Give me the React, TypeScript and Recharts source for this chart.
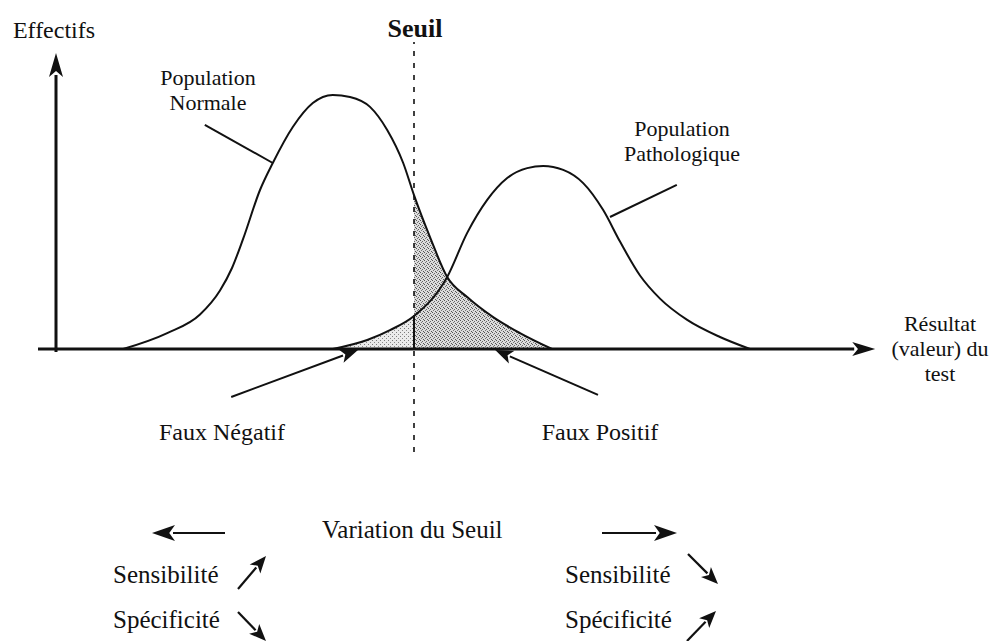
import React from 'react';
import { ComposedChart, Line, Area, XAxis, YAxis, ReferenceLine } from 'recharts';

// courbes (x = résultat du test, y = effectifs)
const normalX = [8.4, 13.9, 18, 20.5, 22, 23.4, 25.5, 27.1, 29.6, 32.1, 34.6, 36.75, 39.25, 41.4, 43.4, 44.75, 46.75, 48.9, 51.4, 54.6, 58, 62];
const normalY = [0, 5.3, 11.5, 19.5, 27, 36.8, 53, 62, 74, 82, 84.7, 84, 80.7, 73, 62, 51.3, 37.3, 24, 17.3, 10.7, 5.3, 0];

const pathoX = [34.6, 38.9, 41.75, 44.75, 48.9, 51.4, 53.9, 56.4, 58.9, 60.9, 63.4, 65.9, 68.4, 70.5, 73, 75.5, 78.9, 83, 86.75];
const pathoY = [0, 3, 6.3, 11, 24, 38.7, 49.7, 57, 60.3, 61, 59.7, 55.3, 46.3, 35.8, 24.5, 16.8, 9.7, 4, 0];

const threshold = 44.75;

// traits d'annotation (en unités du graphique)
const pointers = [
  { from: { x: 18.6, y: 74.7 }, to: { x: 27.1, y: 62 }, arrow: false },
  { from: { x: 77.6, y: 54.7 }, to: { x: 69.25, y: 44 }, arrow: false },
  { from: { x: 21.9, y: -16 }, to: { x: 37.75, y: -0.3 }, arrow: true },
  { from: { x: 67.75, y: -15.3 }, to: { x: 54.9, y: -0.3 }, arrow: true },
];

const xs = Array.from(new Set([...normalX, ...pathoX])).sort((a, b) => a - b);
const data = xs.map((x) => {
  const ni = normalX.indexOf(x);
  const pi = pathoX.indexOf(x);
  return {
    x,
    normal: ni >= 0 ? normalY[ni] : null,
    patho: pi >= 0 ? pathoY[pi] : null,
    fp: ni >= 0 && x >= threshold ? normalY[ni] : null,
    fn: pi >= 0 && x <= threshold ? pathoY[pi] : null,
  };
});

const INK = '#111';
const FONT = '"Liberation Serif", "Times New Roman", serif';

const arrowShape = (head: number, half: number, width: number) => (p: any) => {
  const { x1, y1, x2, y2 } = p;
  const dx = x2 - x1;
  const dy = y2 - y1;
  const len = Math.hypot(dx, dy) || 1;
  const ux = dx / len;
  const uy = dy / len;
  const bx = x2 - ux * head;
  const by = y2 - uy * head;
  const nx = -uy * half;
  const ny = ux * half;
  return (
    <g>
      <line x1={x1} y1={y1} x2={bx + ux * 2} y2={by + uy * 2} stroke={INK} strokeWidth={width} />
      <polygon points={`${x2},${y2} ${bx + nx},${by + ny} ${bx + ux * head * 0.25},${by + uy * head * 0.25} ${bx - nx},${by - ny}`} fill={INK} />
    </g>
  );
};

const Arrow = ({ x1, y1, x2, y2, head, half, width }: any) => arrowShape(head, half, width)({ x1, y1, x2, y2 });

// étiquettes : plusieurs lignes dans un même <text>
const labels = [
  { lines: ['Effectifs'], x: 54, y: 38, a: 'middle', s: 24, lh: 0, w: 400 },
  { lines: ['Seuil'], x: 415, y: 37, a: 'middle', s: 26, lh: 0, w: 700 },
  { lines: ['Population', 'Normale'], x: 208, y: 85, a: 'middle', s: 22, lh: 25, w: 400 },
  { lines: ['Population', 'Pathologique'], x: 682, y: 136, a: 'middle', s: 22, lh: 25, w: 400 },
  { lines: ['Résultat', '(valeur) du', 'test'], x: 940, y: 331, a: 'middle', s: 22, lh: 25, w: 400 },
  { lines: ['Faux Négatif'], x: 222, y: 440, a: 'middle', s: 24, lh: 0, w: 400 },
  { lines: ['Faux Positif'], x: 600, y: 440, a: 'middle', s: 24, lh: 0, w: 400 },
  { lines: ['Variation du Seuil'], x: 322, y: 538, a: 'start', s: 25, lh: 0, w: 400 },
  { lines: ['Sensibilité'], x: 113, y: 583, a: 'start', s: 25, lh: 0, w: 400 },
  { lines: ['Spécificité'], x: 113, y: 628, a: 'start', s: 25, lh: 0, w: 400 },
  { lines: ['Sensibilité'], x: 565, y: 583, a: 'start', s: 25, lh: 0, w: 400 },
  { lines: ['Spécificité'], x: 565, y: 628, a: 'start', s: 25, lh: 0, w: 400 },
];

export default function App() {
  return (
    <div style={{ position: 'absolute', left: 0, top: 0, width: 999, height: 641, background: '#fff' }}>
      <svg width={0} height={0} style={{ position: 'absolute' }}>
        <defs>
          <pattern id="dotsFP" width={4} height={4} patternUnits="userSpaceOnUse">
            <rect width={4} height={4} fill="#dcdcdc" />
            <rect x={0} y={0} width={1} height={1} fill="#555" />
            <rect x={2} y={1} width={1} height={1} fill="#666" />
            <rect x={1} y={2} width={1} height={1} fill="#777" />
            <rect x={3} y={3} width={1} height={1} fill="#555" />
          </pattern>
          <pattern id="dotsFN" width={4} height={4} patternUnits="userSpaceOnUse">
            <rect width={4} height={4} fill="#ebebeb" />
            <rect x={0} y={0} width={1} height={1} fill="#7a7a7a" />
            <rect x={2} y={2} width={1} height={1} fill="#8a8a8a" />
          </pattern>
        </defs>
      </svg>
      <ComposedChart width={999} height={641} data={data} margin={{ top: 40, right: 119, bottom: 181, left: 32 }}>
        <XAxis type="number" dataKey="x" domain={[-3, 103]} allowDataOverflow hide />
        <YAxis type="number" domain={[-37, 103]} allowDataOverflow hide />
        <Area type="monotone" dataKey="fn" stroke="none" fill="url(#dotsFN)" fillOpacity={1} connectNulls isAnimationActive={false} />
        <Area type="monotone" dataKey="fp" stroke="none" fill="url(#dotsFP)" fillOpacity={1} connectNulls isAnimationActive={false} />
        <ReferenceLine
          segment={[{ x: threshold, y: -34.3 }, { x: threshold, y: 102.3 }]}
          stroke={INK}
          strokeWidth={1.6}
          strokeDasharray="5 7"
        />
        <ReferenceLine
          segment={[{ x: threshold, y: 0 }, { x: threshold, y: pathoY[pathoX.indexOf(threshold)] }]}
          stroke={INK}
          strokeWidth={2}
        />
        <Line type="monotone" dataKey="normal" stroke={INK} strokeWidth={2} dot={false} connectNulls isAnimationActive={false} />
        <Line type="monotone" dataKey="patho" stroke={INK} strokeWidth={2} dot={false} connectNulls isAnimationActive={false} />
        {pointers.map((p, i) => (
          <ReferenceLine
            key={i}
            segment={[p.from, p.to]}
            stroke={INK}
            strokeWidth={2}
            shape={p.arrow ? arrowShape(18, 7, 2) : undefined}
          />
        ))}
        <ReferenceLine segment={[{ x: -2.25, y: 0 }, { x: 102.4, y: 0 }]} stroke={INK} shape={arrowShape(23, 7, 3)} />
        <ReferenceLine segment={[{ x: 0, y: -1 }, { x: 0, y: 98.7 }]} stroke={INK} shape={arrowShape(24, 7, 3)} />
      </ComposedChart>
      <svg width={999} height={641} style={{ position: 'absolute', left: 0, top: 0, pointerEvents: 'none' }}>
        {labels.map((l, i) => (
          <text key={i} x={l.x} y={l.y} textAnchor={l.a as any} fontFamily={FONT} fontSize={l.s} fontWeight={l.w} fill={INK}>
            {l.lines.map((line, j) => (
              <tspan key={j} x={l.x} dy={j === 0 ? 0 : l.lh}>
                {line}
              </tspan>
            ))}
          </text>
        ))}
        <Arrow x1={225} y1={533} x2={152} y2={533} head={23} half={8} width={2} />
        <Arrow x1={602} y1={533} x2={677} y2={533} head={23} half={8} width={2} />
        <Arrow x1={238} y1={589} x2={266} y2={556} head={17} half={7} width={2.2} />
        <Arrow x1={238} y1={612} x2={266} y2={641} head={17} half={7} width={2.2} />
        <Arrow x1={688} y1={554} x2={718} y2={584} head={17} half={7} width={2.2} />
        <Arrow x1={687} y1={641} x2={716} y2={611} head={17} half={7} width={2.2} />
      </svg>
    </div>
  );
}
